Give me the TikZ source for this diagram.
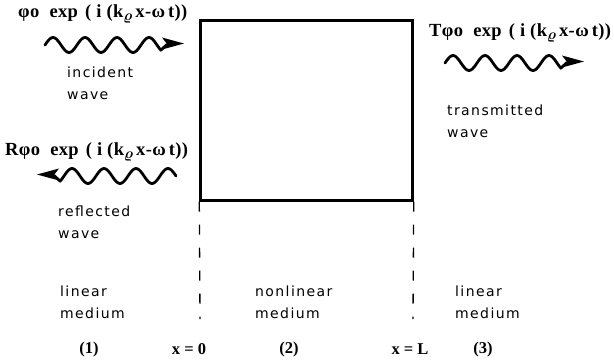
\documentclass[tikz,border=0pt]{standalone}
\usepackage{fontspec}
\setmainfont{Liberation Serif}
\newfontfamily\labfont[LetterSpace=10]{DejaVu Sans}
\newfontfamily\fmfont[LetterSpace=2]{Liberation Serif}
\usetikzlibrary{arrows.meta}
\newcommand{\wavexp}[1]{\fmfont\bfseries #1φo\hspace{0.55em}exp\hspace{0.12em} ( i (k\raisebox{-2.5pt}{\scalebox{0.85}{\boldmath$\varrho$}}\,x-ω\,t))}
\tikzset{
  formula/.style={anchor=west, inner sep=0pt, font=\fontsize{18.5}{20}\selectfont},
  lab/.style={anchor=west, inner sep=0pt, align=left, font=\labfont\fontsize{14}{22}\selectfont},
  num/.style={inner sep=0pt, font=\bfseries\fontsize{16.5}{18}\selectfont},
  wavestyle/.style={line width=2.8pt, line join=round, line cap=round},
  dashline/.style={line width=1.3pt, dash pattern=on 10pt off 13pt},
  wavepic/.pic={
    \draw[wavestyle] plot[domain=0:3.62, samples=73, smooth] ({\x*32},{-7.5*sin(\x*360)}) -- (122,-0.5);
    \fill (139,-1.5) -- (117,-7.5) -- (122,-1) -- (117,4.5) -- cycle;}
}
\begin{document}
\begin{tikzpicture}[x=1pt,y=-1pt]
\useasboundingbox (0,0) rectangle (614,362);
% box
\node[draw, line width=2.4pt, minimum width=212pt, minimum height=180pt, inner sep=0pt] (box) at (306.5,110.5) {};
\coordinate (dl) at (200,319);
\coordinate (dr) at (413,319);
\draw[dashline] (box.south west) -- (dl);
\draw[dashline] (box.south east) -- (dr);
% formulas
\node[formula] (fi) at (18,14) {\wavexp{}};
\node[formula] (fr) at (5,152) {\wavexp{R}};
\node[formula] (ft) at (429,33) {\wavexp{T}};
% waves
\pic at (45,45) {wavepic};
\pic[xscale=-1] at (176,176) {wavepic};
\pic at (445,63) {wavepic};
% labels
\node[lab] (inc) at (67,83) {incident\\wave};
\node[lab] (refl) at (58,222) {reflected\\wave};
\node[lab] (tra) at (447,121) {transmitted\\wave};
\node[lab] (m1) at (60,302) {linear\\medium};
\node[lab] (m2) at (255,302) {nonlinear\\medium};
\node[lab] (m3) at (455,302) {linear\\medium};
% bottom
\node[num] (n1) at (89,350) {(1)};
\node[num] (x0) at (189,349) {x = 0};
\node[num] (n2) at (289,350) {(2)};
\node[num] (xl) at (410,349) {x = L};
\node[num] (n3) at (483,350) {(3)};
\end{tikzpicture}
\end{document}
